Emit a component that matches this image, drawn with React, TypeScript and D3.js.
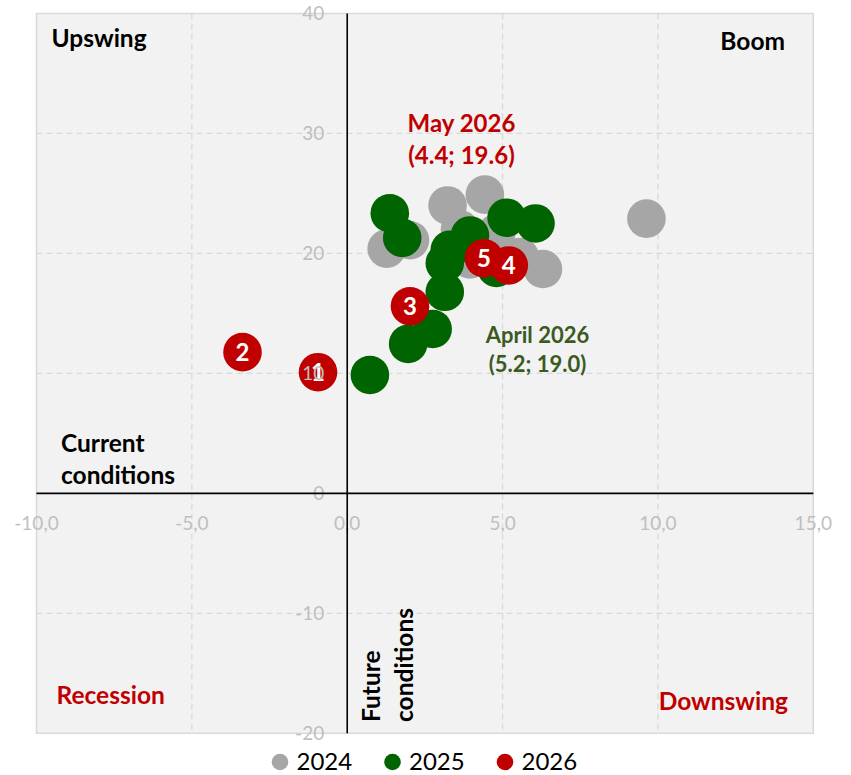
import React from "react";
import * as d3 from "d3";

// ---- data ----
const years = ["2024", "2025", "2026"];
const colors = ["#a6a6a6", "#006400", "#c00000"];

const x2024 = [1.27, 2.02, 3.23, 4.43, 3.63, 3.95, 4.8, 5.56, 6.3, 9.63];
const y2024 = [20.4, 21.1, 24.0, 24.9, 22.0, 19.5, 21.7, 19.7, 18.7, 22.9];

const x2025 = [1.37, 1.77, 5.13, 6.06, 3.95, 3.3, 3.14, 4.8, 3.14, 2.75, 1.96, 0.73];
const y2025 = [23.35, 21.3, 22.98, 22.5, 21.5, 20.3, 19.2, 18.8, 16.8, 13.7, 12.46, 9.87];

const x2026 = [-0.94, -3.37, 2.02, 5.2, 4.4];
const y2026 = [10.1, 11.77, 15.6, 19.0, 19.6];
const labels2026 = ["1", "2", "3", "4", "5"];

const xTicks = [-10, -5, 0, 5, 10, 15];
const yTicks = [-20, -10, 0, 10, 20, 30, 40];

const W = 851;
const H = 775;
const FONT = "Lato, 'Open Sans', sans-serif";

export default function App() {
  const x = d3.scaleLinear().domain([-10, 15]).range([36.5, 813.3]);
  const y = d3.scaleLinear().domain([-20, 40]).range([733.3, 13.5]);
  const r = 19.3;

  const fmtX = (v: number) => {
    const s = Math.abs(v).toFixed(1).replace(".", ",");
    return v < 0 ? "-" + s : s;
  };
  const fmtY = (v: number) => (v < 0 ? "-" + Math.abs(v) : String(v));

  const series = [
    { xs: x2024, ys: y2024, color: colors[0] },
    { xs: x2025, ys: y2025, color: colors[1] },
    { xs: x2026, ys: y2026, color: colors[2] },
  ];

  const x0 = x(0);
  const y0 = y(0);
  const gridDash = "6,4";
  const QF = 24.5;

  return (
    <svg
      width={W}
      height={H}
      style={{ position: "absolute", left: 0, top: 0, background: "#fff" }}
      fontFamily={FONT}
    >
      {/* plot area */}
      <rect
        x={x(-10)}
        y={y(40)}
        width={x(15) - x(-10)}
        height={y(-20) - y(40)}
        fill="#f2f2f2"
        stroke="#d9d9d9"
        strokeWidth={1.5}
      />
      {/* grid */}
      {xTicks
        .filter((t) => t !== 0 && t !== -10 && t !== 15)
        .map((t) => (
          <line
            key={"gx" + t}
            x1={x(t)}
            x2={x(t)}
            y1={y(40)}
            y2={y(-20)}
            stroke="#d9d9d9"
            strokeWidth={1.3}
            strokeDasharray={gridDash}
          />
        ))}
      {yTicks
        .filter((t) => t !== 0 && t !== 40 && t !== -20)
        .map((t) => (
          <line
            key={"gy" + t}
            x1={x(-10)}
            x2={x(15)}
            y1={y(t)}
            y2={y(t)}
            stroke="#d9d9d9"
            strokeWidth={1.3}
            strokeDasharray={gridDash}
          />
        ))}

      {/* quadrant labels */}
      <text x={51.5} y={47} fontSize={QF} fontWeight="bold" fill="#000">
        Upswing
      </text>
      <text x={785} y={50} fontSize={QF} fontWeight="bold" fill="#000" textAnchor="end">
        Boom
      </text>
      <text x={61} y={451.5} fontSize={QF} fontWeight="bold" fill="#000">
        Current
      </text>
      <text x={61} y={483.5} fontSize={QF} fontWeight="bold" fill="#000">
        conditions
      </text>
      <text x={56.5} y={704} fontSize={QF} fontWeight="bold" fill="#c00000">
        Recession
      </text>
      <text x={788} y={710} fontSize={QF} fontWeight="bold" fill="#c00000" textAnchor="end">
        Downswing
      </text>
      <text
        transform={`translate(380,722) rotate(-90)`}
        fontSize={QF}
        fontWeight="bold"
        fill="#000"
      >
        Future
      </text>
      <text
        transform={`translate(413,722) rotate(-90)`}
        fontSize={QF}
        fontWeight="bold"
        fill="#000"
      >
        conditions
      </text>

      {/* annotations */}
      <text x={461.5} y={132} fontSize={24} fontWeight="bold" fill="#c00000" textAnchor="middle">
        May 2026
      </text>
      <text x={461.5} y={163.5} fontSize={24} fontWeight="bold" fill="#c00000" textAnchor="middle">
        (4.4; 19.6)
      </text>
      <text x={537.5} y={343} fontSize={22} fontWeight="bold" fill="#3a5a22" textAnchor="middle">
        April 2026
      </text>
      <text x={537.5} y={371.5} fontSize={22} fontWeight="bold" fill="#3a5a22" textAnchor="middle">
        (5.2; 19.0)
      </text>

      {/* bubbles */}
      {series.map((s, si) =>
        s.xs.map((xv, i) => (
          <circle key={si + "-" + i} cx={x(xv)} cy={y(s.ys[i])} r={r} fill={s.color} />
        ))
      )}
      {x2026.map((xv, i) => (
        <text
          key={"l" + i}
          x={x(xv)}
          y={y(y2026[i])}
          dy="0.36em"
          fontSize={24}
          fontWeight="bold"
          fill="#fff"
          textAnchor="middle"
        >
          {labels2026[i]}
        </text>
      ))}

      {/* tick labels */}
      {yTicks.map((t) => (
        <text
          key={"ty" + t}
          x={x0 - 23}
          y={y(t)}
          dy="0.35em"
          fontSize={19}
          fill="#bfbfbf"
          textAnchor="end"
        >
          {fmtY(t)}
        </text>
      ))}
      {xTicks.map((t) => (
        <text
          key={"tx" + t}
          x={x(t)}
          y={y0 + 37}
          fontSize={19}
          fill="#bfbfbf"
          textAnchor="middle"
        >
          {fmtX(t)}
        </text>
      ))}

      {/* axes */}
      <line x1={x0} x2={x0} y1={y(40)} y2={y(-20)} stroke="#000" strokeWidth={1.6} />
      <line x1={x(-10)} x2={x(15)} y1={y0} y2={y0} stroke="#000" strokeWidth={1.6} />

      {/* legend */}
      {years.map((yr, i) => {
        const cx = 280 + i * 112.5;
        return (
          <g key={yr}>
            <circle cx={cx} cy={762} r={8.3} fill={colors[i]} />
            <text x={cx + 16.5} y={770} fontSize={24} fill="#000">
              {yr}
            </text>
          </g>
        );
      })}
    </svg>
  );
}
